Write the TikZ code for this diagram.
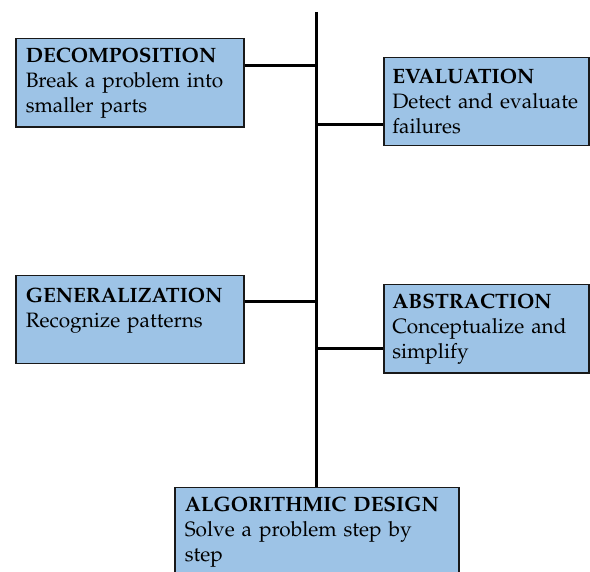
\documentclass[tikz,border=0pt]{standalone}
\usepackage[T1]{fontenc}
\usepackage{mathpazo}
\usepackage{tikz}
\definecolor{boxblue}{RGB}{157,195,230}
\hyphenpenalty=10000

\begin{document}
\begin{tikzpicture}[x=0.5pt, y=-0.5pt,
        box/.style={draw=black!90, line width=0.75pt, fill=boxblue, anchor=north west,
            align=left, inner xsep=5pt, inner ysep=4.5pt, minimum height=44pt,
            font=\fontsize{10.4}{12.5}\selectfont},
        link/.style={line width=1.5pt}]
        \useasboundingbox (0,0) rectangle (590,572);

        % Kutular
        \node[box, text width=104pt] (decomp) at (15,38)
            {\textbf{DECOMPOSITION}\\Break a problem into\\smaller parts};
        \node[box, text width=94pt, inner xsep=4.25pt] (eval) at (383,57)
            {\textbf{EVALUATION}\\Detect and evaluate\\failures};
        \node[box, text width=104pt] (gen) at (15,275)
            {\textbf{GENERALIZATION}\\Recognize patterns\\\mbox{}};
        \node[box, text width=94pt, inner xsep=4.25pt] (abstr) at (383,284)
            {\textbf{ABSTRACTION}\\Conceptualize and\\simplify};
        \node[box, text width=132pt] (algo) at (174,487)
            {\textbf{ALGORITHMIC DESIGN}\\Solve a problem step by\\step};

        % Gövde ve dallar
        \coordinate (top) at (316,12);
        \coordinate (j1) at (316,66);
        \coordinate (j2) at (316,125);
        \coordinate (j3) at (316,302);
        \coordinate (j4) at (316,349);
        \draw[link] (top) -- (top |- algo.north);
        \draw[link] (decomp.east |- j1) -- (j1);
        \draw[link] (j2) -- (eval.west |- j2);
        \draw[link] (gen.east |- j3) -- (j3);
        \draw[link] (j4) -- (abstr.west |- j4);
    \end{tikzpicture}
\end{document}
